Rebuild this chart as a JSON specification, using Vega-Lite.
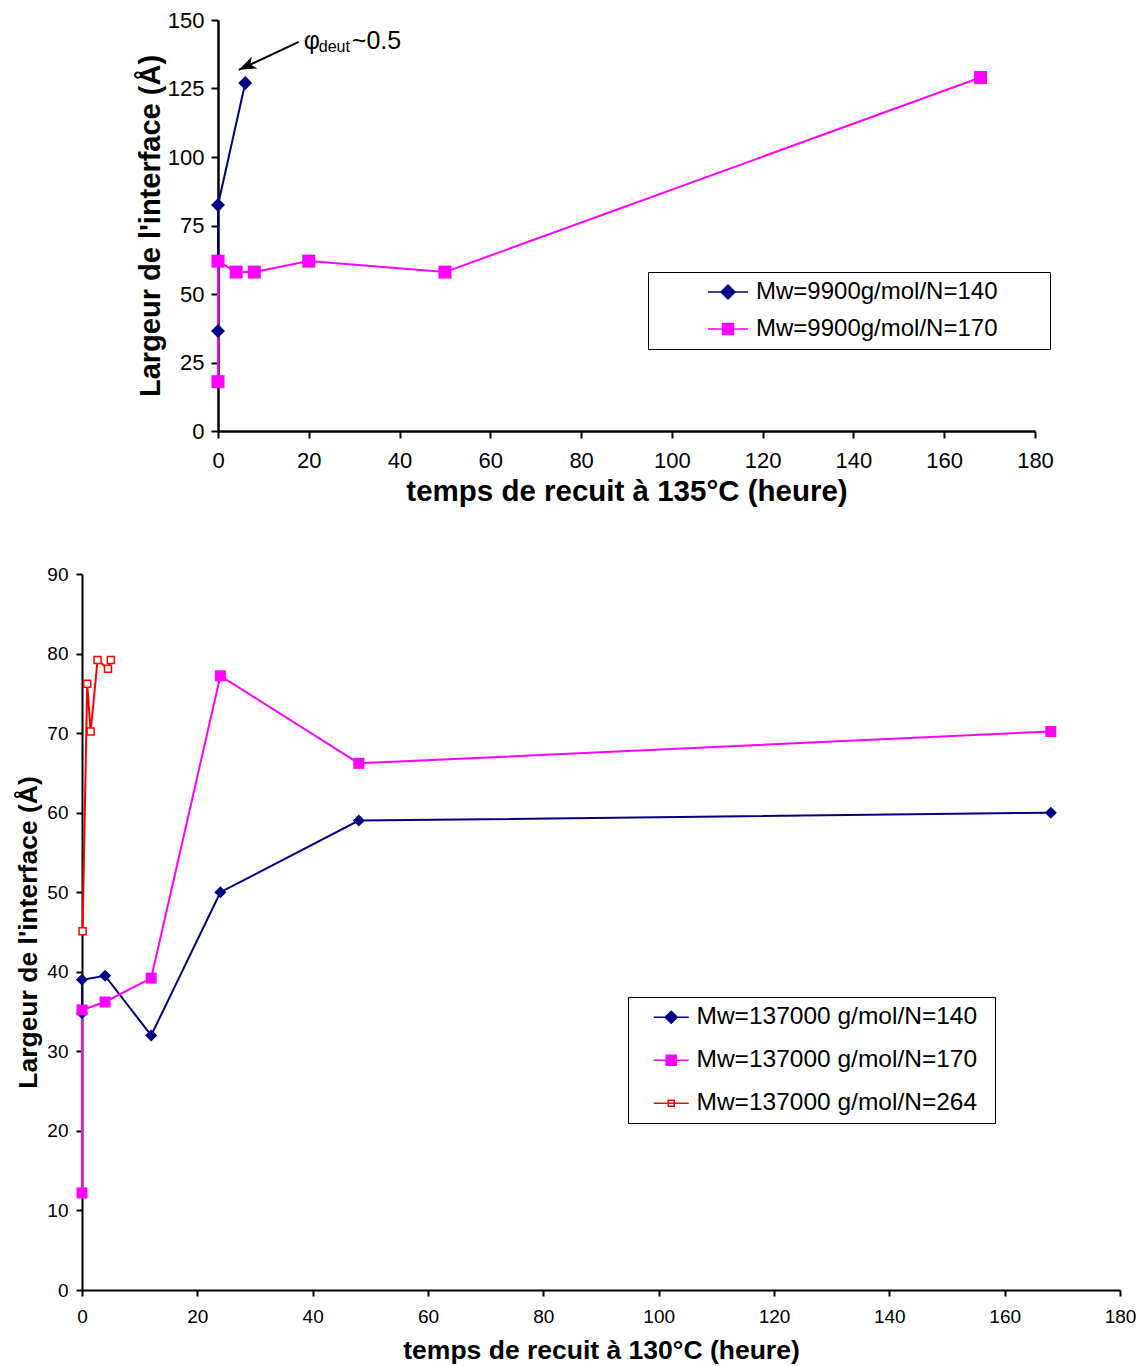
{
  "$schema": "https://vega.github.io/schema/vega-lite/v6.json",
  "padding": {"left": 15, "top": 9, "right": 0, "bottom": 0},
  "background": "white",
  "config": {
    "font": "Liberation Sans",
    "view": {"stroke": null},
    "axis": {"grid": false, "labelFlush": false, "labelOverlap": false, "domainColor": "black", "tickColor": "black", "labelColor": "black", "titleColor": "black", "labelFont": "Liberation Sans", "titleFont": "Liberation Sans"},
    "legend": {"labelFont": "Liberation Sans", "labelColor": "black", "labelLimit": 500}
  },
  "resolve": {"scale": {"color": "independent"}, "legend": {"color": "independent"}},
  "datasets": {
    "top": [
      {"s": "Mw=9900g/mol/N=140", "t": 0, "w": 36.5, "o": 1},
      {"s": "Mw=9900g/mol/N=140", "t": 0, "w": 82.5, "o": 2},
      {"s": "Mw=9900g/mol/N=140", "t": 6, "w": 127, "o": 3},
      {"s": "Mw=9900g/mol/N=170", "t": 0, "w": 18, "o": 1},
      {"s": "Mw=9900g/mol/N=170", "t": 0, "w": 62, "o": 2},
      {"s": "Mw=9900g/mol/N=170", "t": 4, "w": 58, "o": 3},
      {"s": "Mw=9900g/mol/N=170", "t": 8, "w": 58, "o": 4},
      {"s": "Mw=9900g/mol/N=170", "t": 20, "w": 62, "o": 5},
      {"s": "Mw=9900g/mol/N=170", "t": 50, "w": 58, "o": 6},
      {"s": "Mw=9900g/mol/N=170", "t": 168, "w": 129, "o": 7}
    ],
    "arrow": [{"t": 17.8, "w": 142, "t2": 4.6, "w2": 131.8}],
    "note": [{"t": 18.9, "w": 142.2, "a": "φ", "b": "deut", "c": "~0.5"}],
    "bottom": [
      {"s": "Mw=137000 g/mol/N=140", "t": 0, "w": 34.8, "o": 1},
      {"s": "Mw=137000 g/mol/N=140", "t": 0, "w": 39, "o": 2},
      {"s": "Mw=137000 g/mol/N=140", "t": 4, "w": 39.5, "o": 3},
      {"s": "Mw=137000 g/mol/N=140", "t": 12, "w": 32, "o": 4},
      {"s": "Mw=137000 g/mol/N=140", "t": 24, "w": 50, "o": 5},
      {"s": "Mw=137000 g/mol/N=140", "t": 48, "w": 59, "o": 6},
      {"s": "Mw=137000 g/mol/N=140", "t": 168, "w": 60, "o": 7},
      {"s": "Mw=137000 g/mol/N=170", "t": 0, "w": 12.2, "o": 1},
      {"s": "Mw=137000 g/mol/N=170", "t": 0, "w": 35.2, "o": 2},
      {"s": "Mw=137000 g/mol/N=170", "t": 4, "w": 36.2, "o": 3},
      {"s": "Mw=137000 g/mol/N=170", "t": 12, "w": 39.2, "o": 4},
      {"s": "Mw=137000 g/mol/N=170", "t": 24, "w": 77.2, "o": 5},
      {"s": "Mw=137000 g/mol/N=170", "t": 48, "w": 66.2, "o": 6},
      {"s": "Mw=137000 g/mol/N=170", "t": 168, "w": 70.2, "o": 7},
      {"s": "Mw=137000 g/mol/N=264", "t": 0.1, "w": 45.1, "o": 1},
      {"s": "Mw=137000 g/mol/N=264", "t": 0.9, "w": 76.2, "o": 2},
      {"s": "Mw=137000 g/mol/N=264", "t": 1.5, "w": 70.2, "o": 3},
      {"s": "Mw=137000 g/mol/N=264", "t": 2.7, "w": 79.2, "o": 4},
      {"s": "Mw=137000 g/mol/N=264", "t": 4.5, "w": 78.1, "o": 5},
      {"s": "Mw=137000 g/mol/N=264", "t": 5, "w": 79.2, "o": 6}
    ]
  },
  "spacing": 59,
  "vconcat": [
    {
      "spacing": 0,
      "hconcat": [
        {
          "width": 54, "height": 411,
          "data": {"values": [{}]},
          "mark": {"type": "point", "opacity": 0},
          "encoding": {}
        },
        {
          "width": 817, "height": 411,
          "data": {"name": "top"},
          "encoding": {
            "x": {"field": "t", "type": "quantitative", "scale": {"domain": [0, 180], "nice": false},
              "axis": {"values": [0, 20, 40, 60, 80, 100, 120, 140, 160, 180], "labelFontSize": 22, "domainWidth": 2.5, "tickWidth": 2, "tickSize": 7, "labelPadding": 12,
                "title": "temps de recuit à 135°C (heure)", "titleFontSize": 29.5, "titleFontWeight": "bold", "titlePadding": 6}},
            "y": {"field": "w", "type": "quantitative", "scale": {"domain": [0, 150], "nice": false},
              "axis": {"values": [0, 25, 50, 75, 100, 125, 150], "labelFontSize": 22, "domainWidth": 2.5, "tickWidth": 2, "tickSize": 7, "labelPadding": 7,
                "title": "Largeur de l'interface (Å)", "titleFontSize": 29, "titleFontWeight": "bold", "titlePadding": 2}}
          },
          "layer": [
            {
              "mark": {"type": "line", "strokeWidth": 2},
              "encoding": {
                "color": {"field": "s", "type": "nominal",
                  "scale": {"domain": ["Mw=9900g/mol/N=140", "Mw=9900g/mol/N=170"], "range": ["#000080", "#FF00FF"]},
                  "legend": {"title": null, "orient": "none", "legendX": 566, "legendY": 252,
                    "strokeColor": "black", "fillColor": "white", "padding": 8,
                    "labelFontSize": 24, "labelOffset": 16, "rowPadding": 13,
                    "symbolSize": 400, "symbolStrokeWidth": 1.5, "symbolOffset": 60,
                    "encode": {"symbols": {"update": {
                      "shape": {"signal": "indexof(datum.value,'N=140')>=0 ? 'M-2,0H2M0,-0.7L0.7,0L0,0.7L-0.7,0ZM31.1,0' : 'M-2,0H2M-0.55,-0.55H0.55V0.55H-0.55ZM31.1,0'"},
                      "fill": {"signal": "indexof(datum.value,'N=140')>=0 ? '#000080' : '#FF00FF'"},
                      "opacity": {"value": 1}
                    }}}}
                },
                "order": {"field": "o", "type": "quantitative"}
              }
            },
            {
              "transform": [{"filter": "datum.s == 'Mw=9900g/mol/N=140'"}],
              "mark": {"type": "point", "shape": "diamond", "filled": true, "color": "#000080", "size": 196, "opacity": 1}
            },
            {
              "transform": [{"filter": "datum.s == 'Mw=9900g/mol/N=170'"}],
              "mark": {"type": "point", "shape": "square", "filled": true, "color": "#FF00FF", "size": 169, "opacity": 1}
            },
            {
              "data": {"name": "arrow"},
              "mark": {"type": "rule", "color": "black", "strokeWidth": 2},
              "encoding": {
                "x": {"field": "t", "type": "quantitative"},
                "y": {"field": "w", "type": "quantitative"},
                "x2": {"field": "t2"},
                "y2": {"field": "w2"}
              }
            },
            {
              "data": {"name": "arrow"},
              "mark": {"type": "point", "shape": "M0,0L-0.6,1.6L0,1.2L0.6,1.6Z", "filled": true, "color": "black", "size": 460, "angle": 245, "opacity": 1},
              "encoding": {
                "x": {"field": "t2", "type": "quantitative"},
                "y": {"field": "w2", "type": "quantitative"}
              }
            },
            {
              "data": {"name": "note"},
              "mark": {"type": "text", "align": "left", "baseline": "middle", "fontSize": 25, "color": "black"},
              "encoding": {"text": {"field": "a"}}
            },
            {
              "data": {"name": "note"},
              "mark": {"type": "text", "align": "left", "baseline": "middle", "fontSize": 16, "color": "black", "dx": 15, "dy": 6},
              "encoding": {"text": {"field": "b"}}
            },
            {
              "data": {"name": "note"},
              "mark": {"type": "text", "align": "left", "baseline": "middle", "fontSize": 25, "color": "black", "dx": 48},
              "encoding": {"text": {"field": "c"}}
            }
          ]
        }
      ]
    },
    {
      "width": 1038, "height": 716,
      "data": {"name": "bottom"},
      "encoding": {
        "x": {"field": "t", "type": "quantitative", "scale": {"domain": [0, 180], "nice": false},
          "axis": {"values": [0, 20, 40, 60, 80, 100, 120, 140, 160, 180], "labelFontSize": 19, "domainWidth": 2, "tickWidth": 2, "tickSize": 6, "labelPadding": 11,
            "title": "temps de recuit à 130°C (heure)", "titleFontSize": 26.5, "titleFontWeight": "bold", "titlePadding": 11}},
        "y": {"field": "w", "type": "quantitative", "scale": {"domain": [0, 90], "nice": false},
          "axis": {"values": [0, 10, 20, 30, 40, 50, 60, 70, 80, 90], "labelFontSize": 19, "domainWidth": 2, "tickWidth": 2, "tickSize": 6, "labelPadding": 8,
            "title": "Largeur de l'interface (Å)", "titleFontSize": 26.5, "titleFontWeight": "bold", "titlePadding": 4}}
      },
      "layer": [
        {
          "mark": {"type": "line", "strokeWidth": 2},
          "encoding": {
            "color": {"field": "s", "type": "nominal",
              "scale": {"domain": ["Mw=137000 g/mol/N=140", "Mw=137000 g/mol/N=170", "Mw=137000 g/mol/N=264"], "range": ["#000080", "#FF00FF", "#FF0000"]},
              "legend": {"title": null, "orient": "none", "legendX": 546, "legendY": 423,
                "strokeColor": "black", "fillColor": "white", "padding": 8,
                "labelFontSize": 24.5, "labelOffset": 13, "rowPadding": 18,
                "symbolSize": 400, "symbolStrokeWidth": 1.5, "symbolOffset": 23,
                "encode": {"symbols": {"update": {
                  "shape": {"signal": "indexof(datum.value,'N=140')>=0 ? 'M-1.75,0H1.75M0,-0.6L0.6,0L0,0.6L-0.6,0ZM31.2,0' : (indexof(datum.value,'N=170')>=0 ? 'M-1.75,0H1.75M-0.5,-0.5H0.5V0.5H-0.5ZM31.2,0' : 'M-1.75,0H1.75M-0.3,-0.3H0.3V0.3H-0.3ZM31.2,0')"},
                  "fill": {"signal": "indexof(datum.value,'N=140')>=0 ? '#000080' : (indexof(datum.value,'N=170')>=0 ? '#FF00FF' : '#FFFFFF')"},
                  "opacity": {"value": 1}
                }}}}
            },
            "order": {"field": "o", "type": "quantitative"}
          }
        },
        {
          "transform": [{"filter": "datum.s == 'Mw=137000 g/mol/N=140'"}],
          "mark": {"type": "point", "shape": "diamond", "filled": true, "color": "#000080", "size": 144, "opacity": 1}
        },
        {
          "transform": [{"filter": "datum.s == 'Mw=137000 g/mol/N=170'"}],
          "mark": {"type": "point", "shape": "square", "filled": true, "color": "#FF00FF", "size": 121, "opacity": 1}
        },
        {
          "transform": [{"filter": "datum.s == 'Mw=137000 g/mol/N=264'"}],
          "mark": {"type": "point", "shape": "square", "filled": true, "fill": "white", "stroke": "#FF0000", "strokeWidth": 1.5, "size": 49, "opacity": 1}
        }
      ]
    }
  ]
}
